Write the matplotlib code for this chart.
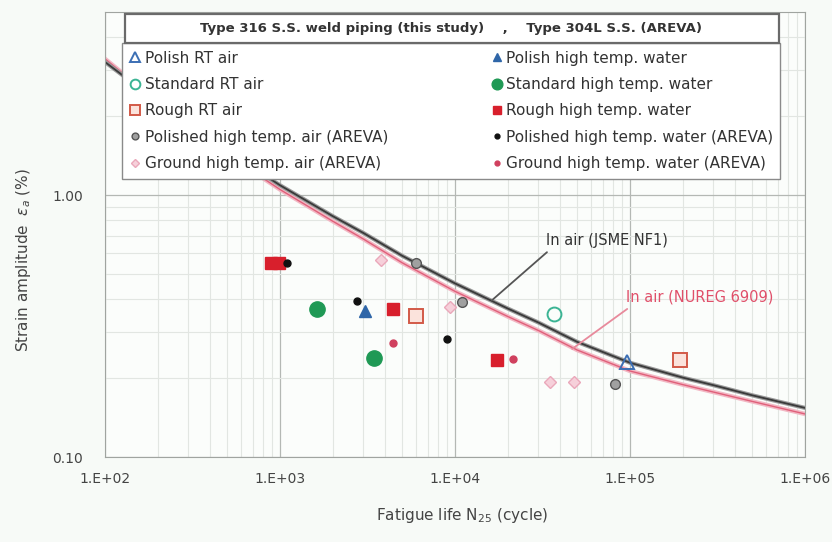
import matplotlib.pyplot as plt
import matplotlib.patches as mpatches
from matplotlib.ticker import LogLocator, NullFormatter

# Design curves (cycles, strain amplitude %)
curve_n = [100, 200, 300, 500, 1000, 2000, 3000, 5000, 1e4, 2e4, 3e4, 5e4,
           1e5, 2e5, 3e5, 5e5, 1e6]
jsme_nf1 = [3.22, 2.27, 1.87, 1.47, 1.09, 0.831, 0.716, 0.586, 0.460, 0.369,
            0.326, 0.275, 0.229, 0.201, 0.188, 0.172, 0.154]
nureg_6909 = [3.31, 2.27, 1.85, 1.43, 1.05, 0.795, 0.679, 0.551, 0.429, 0.344,
              0.304, 0.256, 0.213, 0.189, 0.177, 0.163, 0.146]

# Test data: Type 316 weld piping (this study)
polish_rt_air_n, polish_rt_air_e = [96000], [0.23]
standard_rt_air_n, standard_rt_air_e = [37000], [0.35]
rough_rt_air_n, rough_rt_air_e = [6000, 193000], [0.345, 0.235]
polish_water_n, polish_water_e = [3050], [0.36]
standard_water_n, standard_water_e = [1630, 3450], [0.367, 0.239]
rough_water_n, rough_water_e = [890, 990, 4400, 17400], [0.55, 0.55, 0.367, 0.235]

# Type 304L (AREVA)
polished_air_n, polished_air_e = [6000, 11000, 82000], [0.55, 0.39, 0.19]
ground_air_n, ground_air_e = [3800, 9400, 35000, 48000], [0.565, 0.375, 0.193, 0.193]
polished_water_n, polished_water_e = [1100, 2750, 9000], [0.55, 0.394, 0.282]
ground_water_n, ground_water_e = [4400, 21400], [0.272, 0.236]

x_ticks = [1e2, 1e3, 1e4, 1e5, 1e6]
x_tick_labels = ['1.E+02', '1.E+03', '1.E+04', '1.E+05', '1.E+06']
y_ticks = [0.1, 1.0]
y_tick_labels = ['0.10', '1.00']

fig = plt.figure(figsize=(8.32, 5.42), dpi=100, facecolor='#f7faf7')
ax = fig.add_axes([0.1262, 0.1568, 0.8413, 0.8212])
ax.set_facecolor('#fbfdfb')
ax.set_xscale('log')
ax.set_yscale('log')
ax.set_xlim(1e2, 1e6)
ax.set_ylim(0.1, 5)

# grid
ax.xaxis.set_minor_locator(LogLocator(base=10, subs=range(2, 10)))
ax.yaxis.set_minor_locator(LogLocator(base=10, subs=range(2, 10)))
ax.xaxis.set_minor_formatter(NullFormatter())
ax.yaxis.set_minor_formatter(NullFormatter())
ax.grid(which='major', color='#b4b8b4', lw=0.9)
ax.grid(which='minor', color='#e2e6e2', lw=0.8)
ax.set_axisbelow(True)
for s in ax.spines.values():
    s.set_color('#a0a4a0')

ax.set_xticks(x_ticks)
ax.set_xticklabels(x_tick_labels)
ax.set_yticks(y_ticks)
ax.set_yticklabels(y_tick_labels)
ax.tick_params(which='both', length=0, colors='#444444', labelsize=10)
ax.tick_params(axis='x', pad=11)
ax.tick_params(axis='y', pad=16)

# curves
ax.plot(curve_n, nureg_6909, color='#f2b8c4', lw=3.2, zorder=2)
ax.plot(curve_n, nureg_6909, color='#e0607a', lw=1.0, zorder=2)
ax.plot(curve_n, jsme_nf1, color='#9a9a9a', lw=3.0, zorder=2)
ax.plot(curve_n, jsme_nf1, color='#3a3a3a', lw=1.3, zorder=2)

# data points
kw = dict(linestyle='none', zorder=4)
ax.plot(polish_rt_air_n, polish_rt_air_e, marker='^', ms=10, mfc='none', mec='#3c6fb4',
        mew=1.4, label='Polish RT air', **kw)
ax.plot(standard_rt_air_n, standard_rt_air_e, marker='o', ms=10, mfc='none', mec='#3bb494',
        mew=1.4, label='Standard RT air', **kw)
ax.plot(rough_rt_air_n, rough_rt_air_e, marker='s', ms=10, mfc='#fbe3dc', mec='#d25a48',
        mew=1.4, label='Rough RT air', **kw)
ax.plot(polished_air_n, polished_air_e, marker='o', ms=7, mfc='#a0a0a0', mec='#555555',
        mew=1.0, label='Polished high temp. air (AREVA)', **kw)
ax.plot(ground_air_n, ground_air_e, marker='D', ms=6, mfc='#f6d0da', mec='#eaa8ba',
        mew=1.0, label='Ground high temp. air (AREVA)', **kw)
ax.plot(polish_water_n, polish_water_e, marker='^', ms=9, mfc='#2f66a8', mec='#2f66a8',
        label='Polish high temp. water', **kw)
ax.plot(standard_water_n, standard_water_e, marker='o', ms=11, mfc='#1f9955', mec='#1f9955',
        label='Standard high temp. water', **kw)
ax.plot(rough_water_n, rough_water_e, marker='s', ms=9, mfc='#d81f2c', mec='#d81f2c',
        label='Rough high temp. water', **kw)
ax.plot(polished_water_n, polished_water_e, marker='o', ms=5, mfc='#111111', mec='#111111',
        label='Polished high temp. water (AREVA)', **kw)
ax.plot(ground_water_n, ground_water_e, marker='o', ms=5, mfc='#d0405e', mec='#d0405e',
        label='Ground high temp. water (AREVA)', **kw)

# curve annotations
ax.annotate('In air (JSME NF1)', xy=(15800, 0.39), xytext=(74000, 0.673),
            ha='center', va='center', fontsize=10.5, color='#333333',
            arrowprops=dict(arrowstyle='-', color='#555555', lw=1.3, relpos=(0.05, 0.0)))
ax.annotate('In air (NUREG 6909)', xy=(45400, 0.255), xytext=(250000, 0.408),
            ha='center', va='center', fontsize=10.5, color='#e0506a',
            arrowprops=dict(arrowstyle='-', color='#e88a9c', lw=1.3, relpos=(0.05, 0.0)))

# legend with header row
leg = ax.legend(ncol=2, loc='upper left', bbox_to_anchor=(0.025, 0.93, 0.94, 0.0),
                mode='expand', borderaxespad=0, fontsize=11, markerscale=0.7,
                handlelength=0.7, handletextpad=0.25, labelspacing=0.74,
                borderpad=0.5, frameon=True, fancybox=False, framealpha=1)
leg.get_frame().set_edgecolor('#8a8a8a')
leg.get_frame().set_facecolor('#ffffff')
for t in leg.get_texts():
    t.set_color('#333333')
leg.set_zorder(6)

header = mpatches.Rectangle((0.0286, 0.930), 0.935, 0.066, transform=ax.transAxes,
                            facecolor='#ffffff', edgecolor='#6a6a6a', lw=1.6, zorder=7)
ax.add_patch(header)
ax.text(0.494, 0.963, 'Type 316 S.S. weld piping (this study)    ,    Type 304L S.S. (AREVA)',
        transform=ax.transAxes, ha='center', va='center', fontsize=9.5,
        fontweight='bold', color='#333333', zorder=8)

ax.set_xlabel('Fatigue life N$_{25}$ (cycle)', fontsize=11, color='#444444')
ax.set_ylabel(r'Strain amplitude  $\varepsilon_a$ (%)', fontsize=11, color='#444444')
ax.xaxis.set_label_coords(0.511, -0.11)
ax.yaxis.set_label_coords(-0.103, 0.443)

plt.savefig('out.png', dpi=100, facecolor=fig.get_facecolor())
